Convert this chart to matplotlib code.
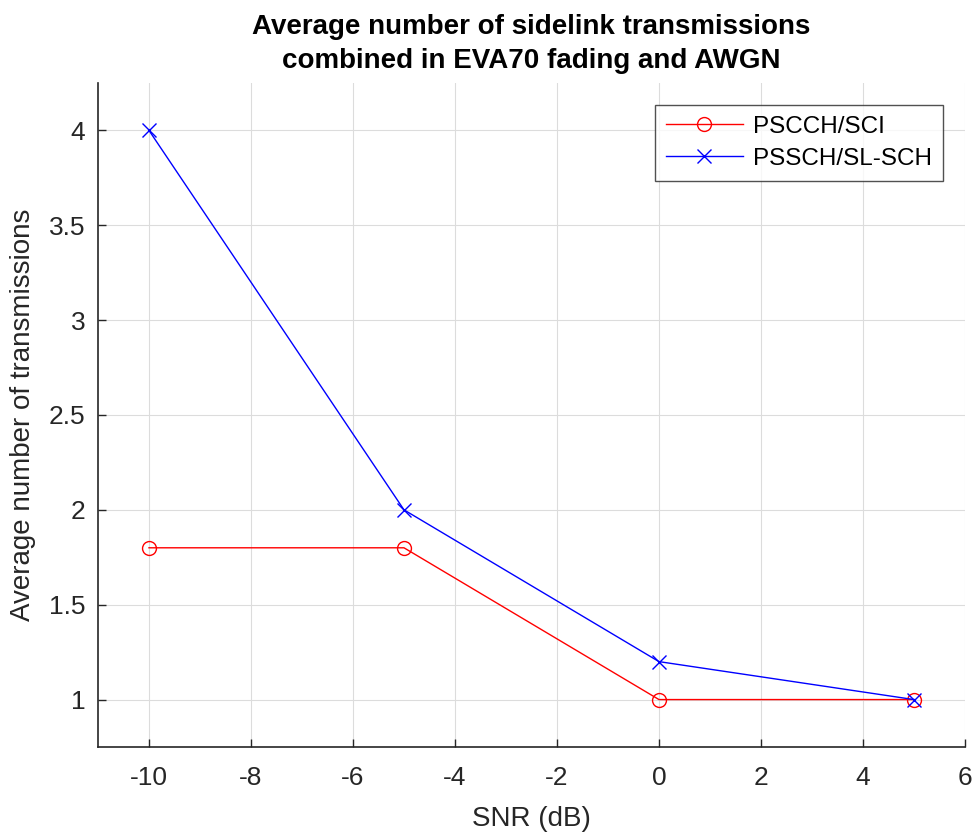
import matplotlib
matplotlib.use("Agg")
import matplotlib.pyplot as plt

plt.rcParams['font.family'] = ['Liberation Sans', 'DejaVu Sans']
plt.rcParams['axes.unicode_minus'] = False

snr = [-10, -5, 0, 5]
pscch = [1.8, 1.8, 1.0, 1.0]
pssch = [4.0, 2.0, 1.2, 1.0]
xticks = [-10, -8, -6, -4, -2, 0, 2, 4, 6]
yticks = [1, 1.5, 2, 2.5, 3, 3.5, 4]

fig = plt.figure(figsize=(9.77, 8.35), dpi=100)
ax = fig.add_axes([0.1003, 0.1054, 0.8874, 0.7952])

ax.plot(snr, pscch, color='#ff0000', marker='o', markersize=10, markerfacecolor='none',
        markeredgewidth=1.0, linewidth=1.0, label='PSCCH/SCI')
ax.plot(snr, pssch, color='#0000ff', marker='x', markersize=10,
        markeredgewidth=1.0, linewidth=1.0, label='PSSCH/SL-SCH')

ax.set_xlim(-11, 6)
ax.set_ylim(0.75, 4.25)
ax.set_xticks(xticks)
ax.set_yticks(yticks)
ax.set_yticklabels(['1', '1.5', '2', '2.5', '3', '3.5', '4'])
ax.grid(True, color='#dcdcdc', linewidth=0.8)
ax.set_axisbelow(True)
for s in ['top', 'right']:
    ax.spines[s].set_visible(False)
for s in ['left', 'bottom']:
    ax.spines[s].set_color('#262626')
    ax.spines[s].set_linewidth(1.2)
ax.tick_params(direction='in', length=6, width=1.0, colors='#262626', labelsize=19)
ax.tick_params(axis='x', pad=14)
ax.tick_params(axis='y', pad=9)

ax.set_xlabel('SNR (dB)', fontsize=20, color='#262626', labelpad=11)
ax.set_ylabel('Average number of transmissions', fontsize=20, color='#262626', labelpad=9)
ax.set_title('Average number of sidelink transmissions\ncombined in EVA70 fading and AWGN',
             fontsize=20, fontweight='bold', color='black', pad=11, linespacing=1.4)

leg = ax.legend(loc='upper right', fontsize=17.5, frameon=True, fancybox=False,
                edgecolor='#262626', handlelength=3.2, borderpad=0.45, borderaxespad=0,
                bbox_to_anchor=(0.9746, 0.967), labelspacing=0.4, handletextpad=0.4)
leg.get_frame().set_linewidth(1.0)

fig.savefig('out.png', dpi=100, facecolor='white')
